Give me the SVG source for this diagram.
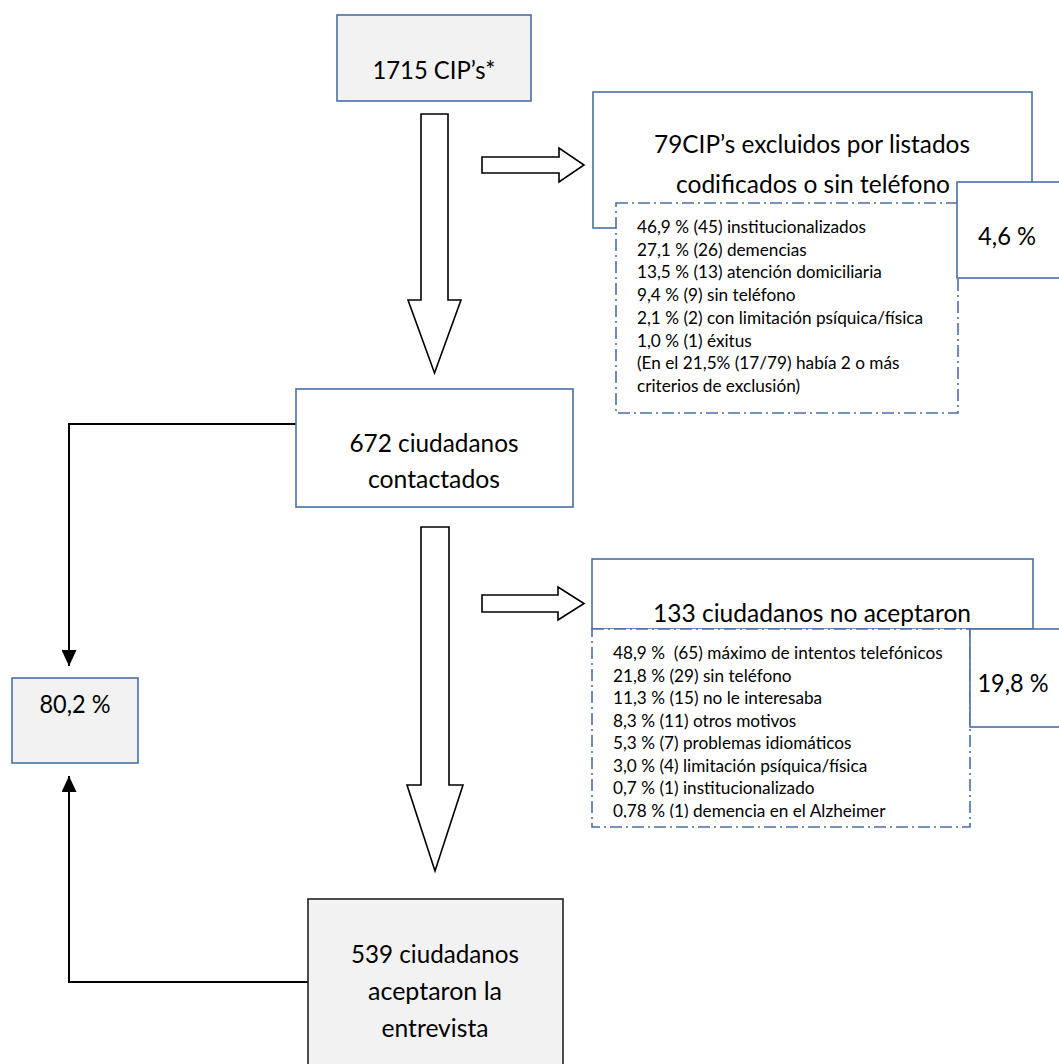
<svg xmlns="http://www.w3.org/2000/svg" width="1059" height="1064" viewBox="0 0 1059 1064">
<defs>
<style>
.t{font-family:Lato,"Liberation Sans",sans-serif;fill:#000}
.big{font-size:24.5px;text-anchor:middle}
.sm{font-size:17.2px;white-space:pre}
.bx{stroke:#4a6fa5;stroke-width:1.6}
.g{fill:#f2f2f2}
.w{fill:#fff}
.dash{fill:#fff;stroke:#4a6fa5;stroke-width:1.6;stroke-dasharray:12 4 2 4}
.blk{fill:#fff;stroke:#000;stroke-width:1.6;stroke-linejoin:miter}
.ln{fill:none;stroke:#000;stroke-width:2}
</style>
<marker id="ah" viewBox="0 0 16 15" refX="16" refY="7.5" markerWidth="16" markerHeight="15" markerUnits="userSpaceOnUse" orient="auto">
<path d="M0,0 L16,7.5 L0,15 Z" fill="#000"/>
</marker>
<clipPath id="clip2"><rect x="592" y="629" width="378" height="189"/></clipPath>
</defs>

<g id="connectors">
<path class="blk" d="M421,114 H448 V300 H461 L434.5,373 L408,300 H421 Z"/>
<path class="blk" d="M482,157 H559 V148 L584,165 L559,182 V173 H482 Z"/>
<path class="blk" d="M421,527 H449 V785 H463 L435,871 L407,785 H421 Z"/>
<path class="blk" d="M482,595 H558 V587 L584,603.5 L558,620 V612 H482 Z"/>
<path class="ln" d="M296,424 H69 V666" marker-end="url(#ah)"/>
<path class="ln" d="M308,982 H69 V776" marker-end="url(#ah)"/>
</g>

<g id="n1715">
<rect class="bx g" x="337" y="15" width="194" height="86"/>
<text class="t big" x="434" y="79" textLength="123" lengthAdjust="spacingAndGlyphs">1715 CIP’s*</text>
</g>

<g id="n79">
<rect class="bx w" x="593" y="92" width="439" height="136"/>
<text class="t big" x="812" y="153" textLength="316" lengthAdjust="spacingAndGlyphs">79CIP’s excluidos por listados</text>
<text class="t big" x="813" y="193" textLength="274" lengthAdjust="spacingAndGlyphs">codificados o sin teléfono</text>
</g>

<g id="n79detail">
<rect class="dash" x="616" y="203" width="342" height="210"/>
<text class="t sm" x="637" y="233">46,9 % (45) institucionalizados</text>
<text class="t sm" x="637" y="255.7">27,1 % (26) demencias</text>
<text class="t sm" x="637" y="278.4">13,5 % (13) atención domiciliaria</text>
<text class="t sm" x="637" y="301.1">9,4 % (9) sin teléfono</text>
<text class="t sm" x="637" y="323.8">2,1 % (2) con limitación psíquica/física</text>
<text class="t sm" x="637" y="346.5">1,0 % (1) éxitus</text>
<text class="t sm" x="637" y="369.2">(En el 21,5% (17/79) había 2 o más</text>
<text class="t sm" x="637" y="391.9">criterios de exclusión)</text>
</g>

<g id="n46">
<rect class="bx w" x="957" y="182" width="115" height="96"/>
<text class="t big" x="1007" y="245" textLength="58" lengthAdjust="spacingAndGlyphs">4,6 %</text>
</g>

<g id="n672">
<rect class="bx w" x="296" y="389" width="277" height="118"/>
<text class="t big" x="434" y="452" textLength="169" lengthAdjust="spacingAndGlyphs">672 ciudadanos</text>
<text class="t big" x="434" y="488" textLength="132" lengthAdjust="spacingAndGlyphs">contactados</text>
</g>

<g id="n133">
<rect class="bx w" x="592" y="559" width="441" height="70"/>
<text class="t big" x="812" y="622" textLength="318" lengthAdjust="spacingAndGlyphs">133 ciudadanos no aceptaron</text>
</g>

<g id="n133detail">
<rect class="dash" x="592" y="629" width="378" height="198"/>
<g clip-path="url(#clip2)">
<text class="t sm" x="613" y="659">48,9 %  (65) máximo de intentos telefónicos</text>
<text class="t sm" x="613" y="681.5">21,8 % (29) sin teléfono</text>
<text class="t sm" x="613" y="704">11,3 % (15) no le interesaba</text>
<text class="t sm" x="613" y="726.5">8,3 % (11) otros motivos</text>
<text class="t sm" x="613" y="749">5,3 % (7) problemas idiomáticos</text>
<text class="t sm" x="613" y="771.5">3,0 % (4) limitación psíquica/física</text>
<text class="t sm" x="613" y="794">0,7 % (1) institucionalizado</text>
<text class="t sm" x="613" y="816.5">0,78 % (1) demencia en el Alzheimer</text>
</g>
</g>

<g id="n198">
<rect class="bx w" x="970" y="629" width="102" height="98"/>
<text class="t big" x="1013" y="692" textLength="71" lengthAdjust="spacingAndGlyphs">19,8 %</text>
</g>

<g id="n802">
<rect class="bx g" x="12" y="678" width="126" height="85"/>
<text class="t big" x="75" y="713" textLength="71" lengthAdjust="spacingAndGlyphs">80,2 %</text>
</g>

<g id="n539">
<rect class="g" x="308" y="899" width="255" height="175" stroke="#222" stroke-width="1.6"/>
<text class="t big" x="435" y="963" textLength="168" lengthAdjust="spacingAndGlyphs">539 ciudadanos</text>
<text class="t big" x="435" y="1000" textLength="134" lengthAdjust="spacingAndGlyphs">aceptaron la</text>
<text class="t big" x="435" y="1037" textLength="107" lengthAdjust="spacingAndGlyphs">entrevista</text>
</g>
</svg>
